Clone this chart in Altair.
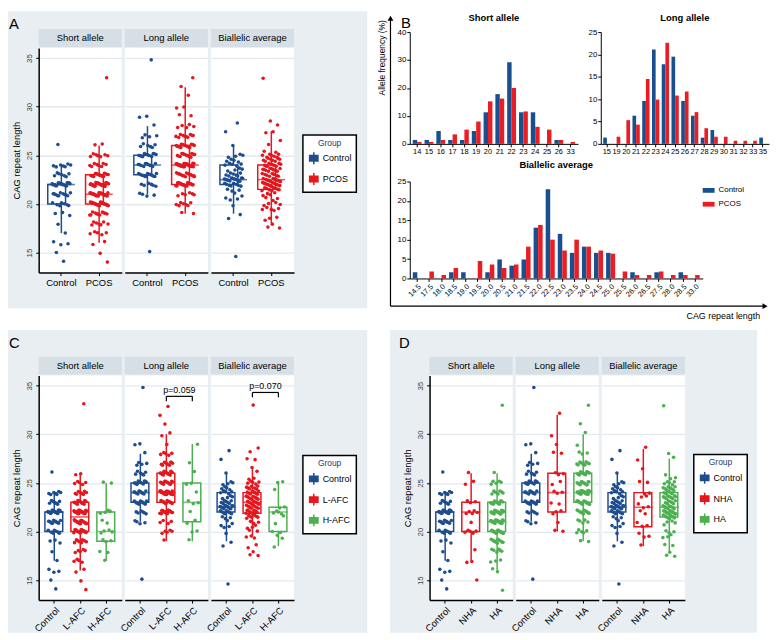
import altair as alt
import pandas as pd

FONT = "Liberation Sans"
BLUE = "#1d4d8e"
RED = "#e5161d"
GREEN = "#4cb050"
BAR_BLUE = "#18508f"
BAR_RED = "#ec1c24"
PANEL_BG = "#e8eef1"
STRIP_BG = "#d5dfe5"
GRID_C = "#e3eaee"
TITLE_C = "#2d3c6a"

MEASURES = ["Short allele", "Long allele", "Biallelic average"]

# ---- repeat-length values (categories) ----
SHORT_VALUES = [14, 15, 16, 17, 18, 19, 20, 21, 22, 23, 24, 25, 26, 33]
LONG_VALUES = [15, 19, 20, 21, 22, 23, 24, 25, 26, 27, 28, 29, 30, 31, 32, 33, 35]
BI_VALUES = [14.5, 17.5, 18.0, 18.5, 19.0, 19.5, 20.0, 20.5, 21.0, 21.5, 22.0, 22.5,
             23.0, 23.5, 24.0, 24.5, 25.0, 25.5, 26.0, 26.5, 27.5, 28.0, 28.5, 33.0]

SHORT_CONTROL = [1, 1, 3, 1, 1, 3, 7, 11, 19, 7, 7, 0, 1, 0]
LONG_CONTROL = [1, 0, 0, 4, 6, 13, 11, 12, 6, 4, 1, 2, 0, 0, 0, 0, 1]
BI_CONTROL = [1, 0, 0, 1, 1, 0, 1, 3, 2, 3, 8, 14, 7, 4, 5, 4, 4, 0, 1, 0, 1, 0, 1, 0]

SHORT_PCOS = [1, 1, 2, 5, 7, 11, 21, 22, 28, 16, 8, 7, 2, 1]
LONG_PCOS = [0, 2, 7, 6, 20, 14, 31, 15, 16, 10, 5, 2, 2, 1, 1, 1, 0]
BI_PCOS = [0, 2, 1, 3, 0, 5, 4, 3, 4, 9, 15, 11, 8, 11, 9, 8, 7, 2, 1, 1, 2, 1, 1, 1]

SHORT_LAFC = [1, 1, 2, 4, 5, 8, 17, 19, 25, 16, 8, 5, 2, 1]
LONG_LAFC = [0, 1, 5, 4, 19, 11, 30, 13, 15, 9, 5, 1, 2, 1, 1, 1, 0]
BI_LAFC = [0, 2, 1, 2, 0, 3, 2, 3, 3, 7, 11, 9, 8, 11, 9, 7, 5, 2, 1, 1, 2, 1, 1, 1]

SHORT_HAFC = [0, 0, 0, 1, 2, 3, 4, 2, 4, 0, 0, 2, 0, 0]
LONG_HAFC = [0, 1, 2, 2, 1, 3, 1, 2, 1, 1, 0, 1, 0, 0, 0, 0, 0]
BI_HAFC = [0, 0, 0, 1, 0, 2, 2, 0, 1, 1, 4, 2, 0, 0, 0, 1, 2, 0, 0, 0, 0, 0, 0, 0]

SHORT_NHA = [0, 1, 0, 2, 1, 0, 5, 1, 5, 3, 0, 2, 1, 0]
LONG_NHA = [0, 0, 2, 1, 3, 2, 3, 2, 3, 0, 2, 1, 1, 0, 1, 0, 0]
BI_NHA = [0, 0, 0, 1, 0, 2, 1, 2, 1, 0, 2, 2, 1, 2, 2, 0, 2, 0, 0, 1, 1, 0, 1, 0]

SHORT_HA = [1, 0, 2, 3, 6, 11, 16, 21, 22, 14, 8, 5, 1, 1]
LONG_HA = [0, 2, 5, 5, 12, 17, 28, 13, 13, 10, 3, 1, 1, 1, 0, 1, 0]
BI_HA = [0, 2, 1, 2, 0, 3, 3, 1, 3, 9, 13, 9, 7, 9, 7, 8, 5, 2, 1, 0, 1, 1, 0, 1]

# ---- allele frequency (%) for panel B ----
B_SHORT_CATS = ["14", "15", "16", "17", "18", "19", "20", "21", "22", "23", "24", "25", "26", "33"]
B_SHORT_CONTROL = [1.4, 1.4, 4.6, 1.4, 1.4, 4.6, 11.3, 17.8, 29.2, 11.3, 11.3, 0, 1.4, 0]
B_SHORT_PCOS = [0.7, 0.7, 1.4, 3.4, 5.1, 8.0, 15.2, 16.2, 20.0, 11.6, 6.1, 5.1, 1.4, 0.7]

B_LONG_CATS = ["15", "19", "20", "21", "22", "23", "24", "25", "26", "27", "28", "29", "30",
               "31", "32", "33", "35"]
B_LONG_CONTROL = [1.4, 0, 0, 6.3, 9.6, 21.1, 17.8, 19.5, 9.6, 6.3, 1.4, 3.1, 0, 0, 0, 0, 1.4]
B_LONG_PCOS = [0, 1.6, 5.3, 4.3, 14.5, 9.9, 22.6, 10.8, 11.7, 7.1, 3.5, 1.6, 1.6, 0.7, 0.7, 0.7, 0]

B_BI_CATS = ["14.5", "17.5", "18.0", "18.5", "19.0", "19.5", "20.0", "20.5", "21.0", "21.5",
             "22.0", "22.5", "23.0", "23.5", "24.0", "24.5", "25.0", "25.5", "26.0", "26.5",
             "27.5", "28.0", "28.5", "33.0"]
B_BI_CONTROL = [1.6, 0, 0, 1.6, 1.6, 0, 1.6, 4.9, 3.3, 4.9, 13.1, 23.0, 11.5, 6.6, 8.2, 6.6,
                6.6, 0, 1.6, 0, 1.6, 0, 1.6, 0]
B_BI_PCOS = [0, 1.8, 0.9, 2.7, 0, 4.5, 3.6, 2.7, 3.6, 8.2, 13.8, 10.0, 7.2, 10.0, 8.2, 7.2,
             6.4, 1.8, 0.9, 0.9, 1.8, 0.9, 0.9, 0.9]
B_TITLES = ["Short allele", "Long allele", "Biallelic average"]

Y_TICKS = [15, 20, 25, 30, 35]
Y_DOMAIN = [12.95, 36.05]

PVAL_MEASURES = ["Long allele", "Biallelic average"]
PVAL_LABELS = ["p=0.059", "p=0.070"]
PVAL_Y = [33.9, 34.3]

ONE = pd.DataFrame({"k": [0]})
BOX_GLYPH = "M-0.7,-0.45H0.7V0.45H-0.7Z M-0.7,0H0.7 M0,-1V-0.45 M0,0.45V1"
IND = dict(color="independent", stroke="independent", xOffset="independent")


def expand(group_counts):
    rows = []
    for g, counts in group_counts.items():
        for measure, vals, cnts in zip(MEASURES, [SHORT_VALUES, LONG_VALUES, BI_VALUES], counts):
            for v, c in zip(vals, cnts):
                rows.extend({"measure": measure, "g": g, "v": v} for _ in range(c))
    return pd.DataFrame(rows)


def bg_view(rect, letter, lx, ly, H):
    r = alt.Chart(ONE).mark_rect(fill=PANEL_BG).encode(
        x=alt.value(rect[0]), x2=alt.value(rect[1]), y=alt.value(rect[2]), y2=alt.value(rect[3]))
    t = alt.Chart(ONE).mark_text(fontSize=15, font=FONT, align="left", baseline="top",
                                 color="black").encode(
        x=alt.value(lx), y=alt.value(ly), text=alt.value(letter))
    return alt.layer(r, t).properties(width=1, height=H)


def box_column(df, measure, groups, colors, W, H, first, legend_xy, rotate, pv):
    n = len(groups)
    step = W / (n + 0.2)
    xs = alt.Scale(domain=groups, paddingInner=0, paddingOuter=0.1)
    ys = alt.Scale(domain=Y_DOMAIN, nice=False, zero=False)
    xa = dict(title=None, domainColor="black", domainWidth=1.5, tickColor="black", tickWidth=1,
              tickSize=3, labelColor="black", labelFontSize=9.5, labelPadding=2, grid=False)
    if rotate:
        xa.update(labelAngle=315)
    else:
        xa.update(labelAngle=0)
    x_axis = alt.Axis(**xa)
    if first:
        y_axis = alt.Axis(title="CAG repeat length", values=Y_TICKS, grid=True, gridColor=GRID_C,
                          gridWidth=1.3, domainColor="black", domainWidth=1.5, tickColor="black",
                          tickSize=3, labelAngle=270, labelFontSize=8, labelColor="#444444",
                          labelPadding=2, titleFontSize=9.5, titleFontWeight="normal",
                          titleColor="black", titlePadding=4)
    else:
        y_axis = alt.Axis(title=None, values=Y_TICKS, grid=True, gridColor=GRID_C, gridWidth=1.3,
                          domain=False, ticks=False, labels=False)

    X = alt.X("g:N", scale=xs, axis=x_axis)

    def Y(f):
        return alt.Y(f, scale=ys, axis=y_axis)

    cscale = alt.Scale(domain=groups, range=colors)
    if legend_xy is not None:
        leg = alt.Legend(title="Group", orient="none", legendX=legend_xy[0], legendY=legend_xy[1],
                         strokeColor="black", fillColor="white", padding=4,
                         titleFontSize=8.5, titleColor=TITLE_C, titleFontWeight="normal",
                         titleAnchor="middle", titlePadding=4, labelFontSize=9, labelColor="black",
                         symbolType=BOX_GLYPH, symbolSize=144, symbolStrokeWidth=1.5,
                         rowPadding=3, labelOffset=2)
    else:
        leg = None
    stroke_enc = alt.Stroke("g:N", scale=cscale, legend=leg)
    color_enc = alt.Color("g:N", scale=cscale, legend=None)

    base = alt.Chart(df).transform_filter(alt.datum.measure == measure)
    stats = base.transform_joinaggregate(
        q1="q1(v)", q3="q3(v)", med="median(v)", groupby=["g"]
    ).transform_calculate(
        lo="datum.q1 - 1.5*(datum.q3 - datum.q1)", hi="datum.q3 + 1.5*(datum.q3 - datum.q1)"
    ).transform_filter(
        "datum.v >= datum.lo && datum.v <= datum.hi"
    ).transform_aggregate(
        wlo="min(v)", whi="max(v)", q1="min(q1)", q3="min(q3)", med="min(med)", groupby=["g"]
    )

    strip_rect = alt.Chart(ONE).mark_rect(fill=STRIP_BG).encode(
        x=alt.value(0), x2=alt.value(W), y=alt.value(-19), y2=alt.value(-1))
    strip_text = alt.Chart(ONE).mark_text(fontSize=9.5, font=FONT, color="black",
                                          baseline="middle").encode(
        x=alt.value(W / 2), y=alt.value(-10), text=alt.value(measure))

    wl = stats.mark_rule(strokeWidth=1.5).encode(x=X, y=Y("wlo:Q"), y2="q1:Q", stroke=stroke_enc)
    wh = stats.mark_rule(strokeWidth=1.5).encode(x=X, y=Y("q3:Q"), y2="whi:Q", stroke=stroke_enc)
    box_fill = stats.mark_bar(width={"band": 0.72}, color="white").encode(
        x=X, y=Y("q1:Q"), y2="q3:Q")
    box = stats.mark_bar(width={"band": 0.72}, filled=False, strokeWidth=1.5).encode(
        x=X, y=Y("q1:Q"), y2="q3:Q", stroke=stroke_enc)
    med = stats.mark_tick(thickness=1.6, size=0.72 * step).encode(
        x=X, y=Y("med:Q"), color=color_enc)
    pts = base.transform_window(rn="row_number()").transform_calculate(
        jx="((datum.rn * 0.6180339887) % 1 - 0.5) * 0.5",
        vy="datum.v + ((datum.rn * 0.7548776662) % 1 - 0.5) * 0.4",
    ).mark_circle(size=13, opacity=1).encode(
        x=X, xOffset=alt.XOffset("jx:Q", scale=alt.Scale(domain=[-0.5, 0.5])),
        y=Y("vy:Q"), color=color_enc)

    layers = [strip_rect, strip_text, wl, wh, box_fill, box, med, pts]
    if pv is not None:
        pdf = pd.DataFrame({"a": ["L-AFC"], "b": ["H-AFC"], "yb": [pv[1]],
                            "yl": [pv[1] - 0.5], "lab": [pv[0]]})
        pc = alt.Chart(pdf)
        layers += [
            pc.mark_rule(color="black", strokeWidth=1.2).encode(
                x=alt.X("a:N", scale=xs, axis=x_axis, bandPosition=0.5),
                x2=alt.X2("b:N", bandPosition=0.5), y=Y("yb:Q")),
            pc.mark_rule(color="black", strokeWidth=1.2).encode(
                x=alt.X("a:N", scale=xs, axis=x_axis), y=Y("yb:Q"), y2="yl:Q"),
            pc.mark_rule(color="black", strokeWidth=1.2).encode(
                x=alt.X("b:N", scale=xs, axis=x_axis), y=Y("yb:Q"), y2="yl:Q"),
            pc.mark_text(fontSize=9, font=FONT, color="black", baseline="bottom", dy=-1).encode(
                x=alt.X("b:N", scale=xs, axis=x_axis, bandPosition=0), y=Y("yb:Q"), text="lab:N"),
        ]
    return alt.layer(*layers).properties(
        width=W, height=H, view=alt.ViewBackground(fill="white", stroke=None))


def box_panel(df, groups, colors, letter, rect, lx, ly, rotate, legend_xy, pvals):
    W, H = 84, 227
    cols = [bg_view(rect, letter, lx, ly, H)]
    for i, m in enumerate(MEASURES):
        cols.append(box_column(df, m, groups, colors, W, H, first=(i == 0),
                               legend_xy=(legend_xy if i == 2 else None), rotate=rotate,
                               pv=pvals.get(m)))
    return alt.hconcat(*cols, spacing=3, bounds="flush").resolve_scale(**IND)


def bar_chart(cats, ctrl, pcos, W, H, ymax, yticks, rotate, legend):
    df = pd.DataFrame({"cat": cats * 2,
                       "grp": ["Control"] * len(cats) + ["PCOS"] * len(cats),
                       "pct": ctrl + pcos})
    x_axis = alt.Axis(title=None, labelAngle=315 if rotate else 0, labelFontSize=7.5,
                      labelColor="black", domainColor="black", domainWidth=1, tickColor="black",
                      tickSize=3, labelPadding=1)
    y_axis = alt.Axis(title=None, values=yticks, grid=False, domainColor="black", domainWidth=1,
                      tickColor="black", tickSize=3, labelFontSize=8, labelColor="black",
                      labelPadding=1)
    bars = alt.Chart(df).mark_bar().encode(
        x=alt.X("cat:N", sort=cats,
                scale=alt.Scale(domain=cats, paddingInner=0.25, paddingOuter=0.25), axis=x_axis),
        xOffset=alt.XOffset("grp:N", scale=alt.Scale(domain=["Control", "PCOS"])),
        y=alt.Y("pct:Q", scale=alt.Scale(domain=[0, ymax], nice=False), axis=y_axis),
        color=alt.Color("grp:N", scale=alt.Scale(domain=["Control", "PCOS"],
                                                 range=[BAR_BLUE, BAR_RED]), legend=legend))
    return bars.properties(width=W, height=H)


# ---------------- Panel A ----------------
dfA = expand({"Control": [SHORT_CONTROL, LONG_CONTROL, BI_CONTROL],
              "PCOS": [SHORT_PCOS, LONG_PCOS, BI_PCOS]})
panelA_cols = box_panel(dfA, ["Control", "PCOS"], [BLUE, RED], "A",
                        rect=(-27, 336, -37, 263), lx=-26, ly=-31, rotate=False,
                        legend_xy=(93, 88), pvals={})
# 1px helper on top so that the origin of panel A sits level with the top of panel B's plots
a_spacer = alt.Chart(ONE).mark_point(opacity=0).encode(
    x=alt.value(0), y=alt.value(0)).properties(width=1, height=16)
panelA = alt.vconcat(a_spacer, panelA_cols, spacing=0, bounds="flush").resolve_scale(**IND)

# ---------------- Panel C ----------------
dfC = expand({"Control": [SHORT_CONTROL, LONG_CONTROL, BI_CONTROL],
              "L-AFC": [SHORT_LAFC, LONG_LAFC, BI_LAFC],
              "H-AFC": [SHORT_HAFC, LONG_HAFC, BI_HAFC]})
panelC = box_panel(dfC, ["Control", "L-AFC", "H-AFC"], [BLUE, RED, GREEN], "C",
                   rect=(-27, 336, -46, 260), lx=-26, ly=-40, rotate=True,
                   legend_xy=(93, 81),
                   pvals={m: (lab, y) for m, lab, y in zip(PVAL_MEASURES, PVAL_LABELS, PVAL_Y)})

# ---------------- Panel D ----------------
dfD = expand({"Control": [SHORT_CONTROL, LONG_CONTROL, BI_CONTROL],
              "NHA": [SHORT_NHA, LONG_NHA, BI_NHA],
              "HA": [SHORT_HA, LONG_HA, BI_HA]})
panelD = box_panel(dfD, ["Control", "NHA", "HA"], [BLUE, RED, GREEN], "D",
                   rect=(-36, 335, -46, 260), lx=-27, ly=-40, rotate=True,
                   legend_xy=(93, 80), pvals={})

# ---------------- Panel B ----------------
# decorations drawn in a 1px-wide helper view whose origin is 2px left of the short-allele plot
def deco_text(txt, x, y, size=9.5, bold=True, align="center", angle=0):
    kw = dict(fontSize=size, font=FONT, color="black", baseline="middle", align=align,
              fontWeight="bold" if bold else "normal")
    if angle:
        kw["angle"] = angle
    return alt.Chart(ONE).mark_text(**kw).encode(
        x=alt.value(x), y=alt.value(y), text=alt.value(txt))


b_deco = alt.layer(
    alt.Chart(ONE).mark_rect(fill="white", fillOpacity=0).encode(
        x=alt.value(-34), x2=alt.value(366), y=alt.value(-21), y2=alt.value(293)),
    alt.Chart(ONE).mark_rule(color="black", strokeWidth=1.2).encode(
        x=alt.value(-17.5), y=alt.value(-14), y2=alt.value(277)),
    alt.Chart(ONE).mark_rule(color="black", strokeWidth=1.2).encode(
        x=alt.value(-17.5), x2=alt.value(360), y=alt.value(277)),
    alt.Chart(ONE).mark_point(shape="triangle-up", filled=True, size=35, color="black",
                              opacity=1).encode(x=alt.value(-17.5), y=alt.value(-14)),
    alt.Chart(ONE).mark_point(shape="triangle-right", filled=True, size=35, color="black",
                              opacity=1).encode(x=alt.value(361), y=alt.value(277)),
    deco_text("Allele frequency (%)", -26, 26, size=8.5, bold=False, angle=270),
    deco_text("CAG repeat length", 356, 287, size=9, bold=False, align="right"),
    deco_text(B_TITLES[0], 87, -14),
    deco_text(B_TITLES[1], 280, -14),
    deco_text(B_TITLES[2], 150, 134),
    alt.Chart(ONE).mark_text(fontSize=15, font=FONT, align="left", baseline="top",
                             color="black").encode(
        x=alt.value(-7), y=alt.value(-16), text=alt.value("B")),
).properties(width=1, height=113)

b_legend = alt.Legend(title=None, orient="none", legendX=296, legendY=3, labelFontSize=8,
                      labelColor="black", symbolType="M-1,-0.4H1V0.4H-1Z", symbolSize=144,
                      symbolStrokeWidth=0, rowPadding=4, labelOffset=4)
bShort = bar_chart(B_SHORT_CATS, B_SHORT_CONTROL, B_SHORT_PCOS, 170, 113, 40,
                   [0, 10, 20, 30, 40], False, None)
bLong = bar_chart(B_LONG_CATS, B_LONG_CONTROL, B_LONG_PCOS, 170, 113, 25,
                  [0, 5, 10, 15, 20, 25], False, None)
bBi = bar_chart(B_BI_CATS, B_BI_CONTROL, B_BI_PCOS, 296, 98, 25,
                [0, 5, 10, 15, 20, 25], True, b_legend)
b_row1 = alt.hconcat(bShort, bLong, spacing=23, bounds="flush").resolve_scale(**IND)
b_inner = alt.vconcat(b_row1, bBi, spacing=151, bounds="flush").resolve_scale(**IND)
panelB = alt.hconcat(b_deco, b_inner, spacing=1, bounds="flush").resolve_scale(**IND)

top = alt.hconcat(panelA, panelB, spacing=7).resolve_scale(**IND)
bottom = alt.hconcat(panelC, panelD, spacing=23).resolve_scale(**IND)

chart = alt.vconcat(top, bottom, spacing=8).resolve_scale(**IND).properties(
    padding=0, background="white"
).configure_view(stroke=None).configure_axis(
    labelFont=FONT, titleFont=FONT
).configure_legend(labelFont=FONT, titleFont=FONT, strokeWidth=1.5).configure_title(font=FONT)

chart.save("out.html", embed_options={"renderer": "svg", "actions": False})
